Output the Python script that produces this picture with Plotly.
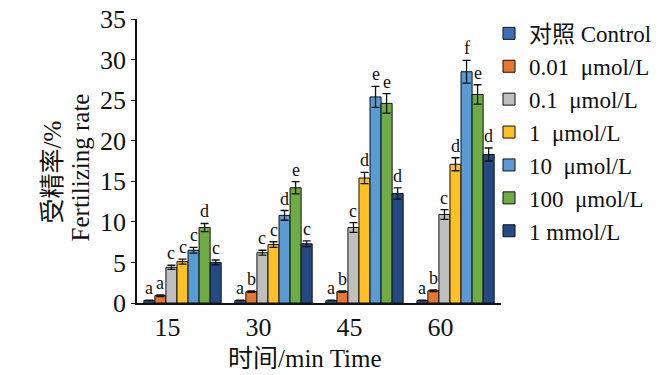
import plotly.graph_objects as go

times = ["15", "30", "45", "60"]
series_names = ["对照 Control", "0.01\u00a0 μmol/L", "0.1\u00a0 μmol/L", "1\u00a0 μmol/L",
                "10\u00a0 μmol/L", "100\u00a0 μmol/L", "1 mmol/L"]
colors = ["#3d6fb6", "#e87530", "#bfbfbf", "#fdc126", "#5a9bd5", "#6fac46", "#244a85"]

control = [0.3, 0.3, 0.3, 0.3]
c001 = [0.9, 1.4, 1.4, 1.5]
c01 = [4.4, 6.2, 9.3, 10.9]
c1 = [5.1, 7.2, 15.4, 17.1]
c10 = [6.5, 10.8, 25.4, 28.5]
c100 = [9.3, 14.2, 24.6, 25.7]
c1m = [5.0, 7.3, 13.5, 18.3]

e_control = [0.05, 0.05, 0.05, 0.05]
e001 = [0.1, 0.1, 0.1, 0.1]
e01 = [0.25, 0.3, 0.6, 0.6]
e1 = [0.3, 0.35, 0.7, 0.8]
e10 = [0.35, 0.6, 1.3, 1.4]
e100 = [0.5, 0.75, 1.2, 1.2]
e1m = [0.3, 0.35, 0.7, 0.8]

l_control = ["a", "a", "a", "a"]
l001 = ["a", "b", "b", "b"]
l01 = ["c", "c", "c", "c"]
l1 = ["c", "c", "d", "d"]
l10 = ["c", "d", "e", "f"]
l100 = ["d", "e", "e", "e"]
l1m = ["c", "c", "d", "d"]

values = [control, c001, c01, c1, c10, c100, c1m]
errors = [e_control, e001, e01, e1, e10, e100, e1m]
letters = [l_control, l001, l01, l1, l10, l100, l1m]

SERIF = "Liberation Serif, Noto Sans CJK SC, serif"

fig = go.Figure()
for name, col, v, e in zip(series_names, colors, values, errors):
    fig.add_trace(go.Bar(
        x=times, y=v, name=name,
        marker=dict(color=col, line=dict(color="#111111", width=1)),
        error_y=dict(type="data", array=e, visible=True, color="#111111",
                     thickness=1.3, width=4),
    ))

bargap = 0.15
n = len(series_names)
bw = (1 - bargap) / n
annotations = []
for si, (v, e, lab) in enumerate(zip(values, errors, letters)):
    for ci in range(len(times)):
        annotations.append(dict(
            x=ci - (1 - bargap) / 2 + bw * (si + 0.5), y=v[ci] + e[ci],
            xref="x", yref="y", text=lab[ci], showarrow=False,
            yanchor="bottom", xanchor="center", yshift=0,
            font=dict(family=SERIF, size=18, color="#111111"),
        ))

# axis titles
annotations.append(dict(
    x=(305 - 137) / 364, y=(303 - 359) / 287, xref="paper", yref="paper",
    text="时间/min Time", showarrow=False, xanchor="center", yanchor="middle",
    font=dict(family=SERIF, size=25, color="#111111")))
annotations.append(dict(
    x=(80 - 137) / 364, y=(303 - 166) / 287, xref="paper", yref="paper",
    text="Fertilizing rate", showarrow=False, textangle=-90,
    xanchor="center", yanchor="middle",
    font=dict(family=SERIF, size=25, color="#111111")))
annotations.append(dict(
    x=(52 - 137) / 364, y=(303 - 171) / 287, xref="paper", yref="paper",
    text="受精率/%", showarrow=False, textangle=-90,
    xanchor="center", yanchor="middle",
    font=dict(family=SERIF, size=25, color="#111111")))

fig.update_layout(
    width=669, height=375,
    margin=dict(l=137, r=168, t=16, b=72),
    paper_bgcolor="white", plot_bgcolor="white",
    barmode="group", bargap=bargap, bargroupgap=0,
    font=dict(family=SERIF, color="#111111"),
    showlegend=True,
    legend=dict(x=(489 - 137) / 364, y=1.025,
                xanchor="left", yanchor="top",
                font=dict(family=SERIF, size=23, color="#111111"),
                bgcolor="rgba(0,0,0,0)", traceorder="normal",
                itemwidth=30, maxheight=360),
    annotations=annotations,
)
fig.update_xaxes(
    type="category", range=[-0.5, 3.5], showline=True, linecolor="#111111",
    linewidth=1.5, ticks="", tickfont=dict(family=SERIF, size=26),
    ticklabelshift=-15, showgrid=False, zeroline=False, automargin=False,
)
fig.update_yaxes(
    range=[0, 35], dtick=5, showline=True, linecolor="#111111", linewidth=1.5,
    ticks="outside", ticklen=4, tickwidth=1.2, tickcolor="#111111",
    tickfont=dict(family=SERIF, size=26), showgrid=False, zeroline=False,
    automargin=False,
)

fig.write_html("out.html", config={"displayModeBar": False},
               post_script="document.body.style.margin='0';")
